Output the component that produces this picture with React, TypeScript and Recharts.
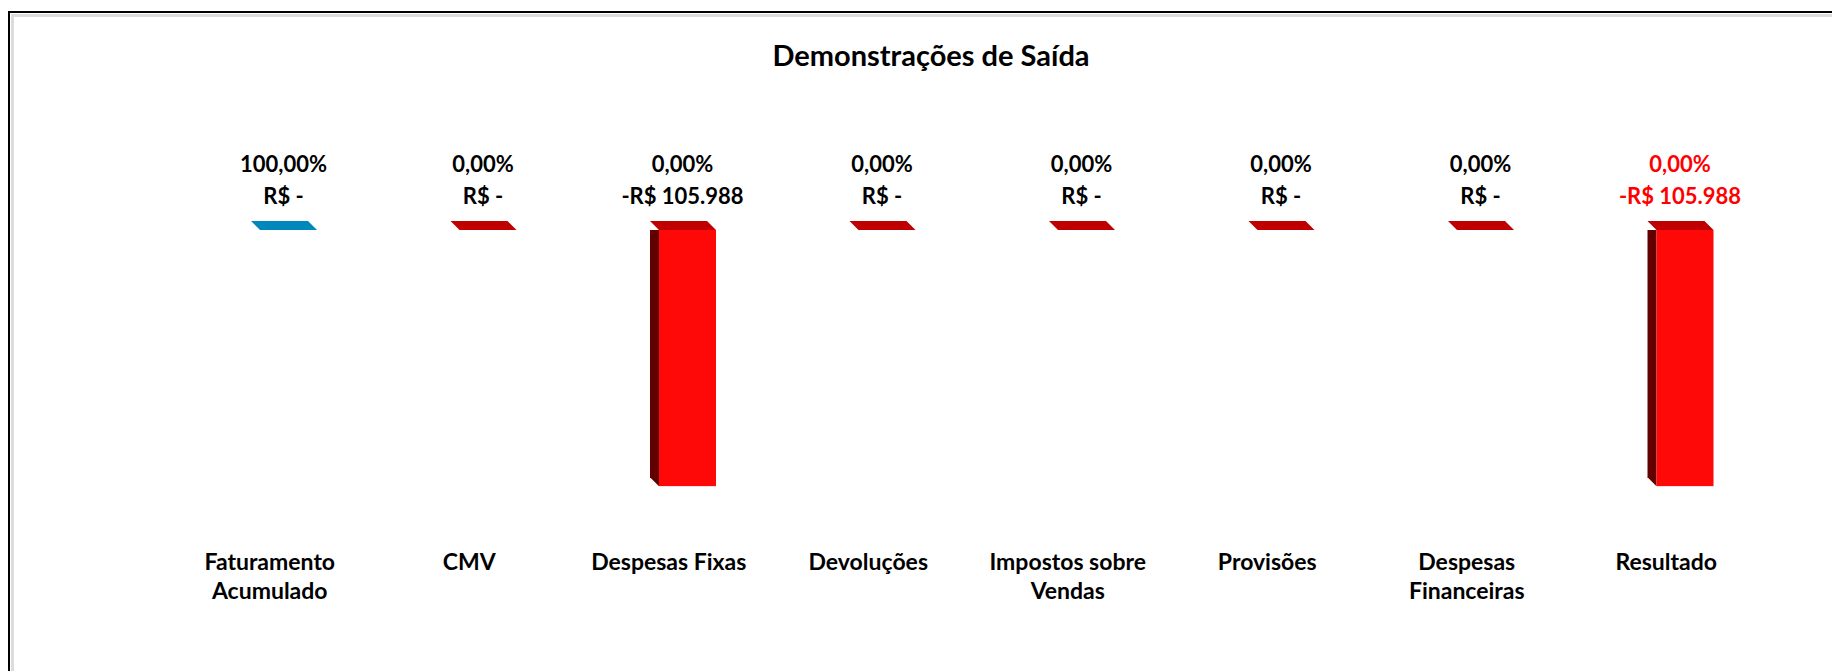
import { BarChart, Bar, XAxis, YAxis, LabelList } from 'recharts'

const categories = [
  'Faturamento Acumulado',
  'CMV',
  'Despesas Fixas',
  'Devoluções',
  'Impostos sobre Vendas',
  'Provisões',
  'Despesas Financeiras',
  'Resultado'
]
const valores = [0, 0, -105988, 0, 0, 0, 0, -105988]
const percentuais = [100, 0, 0, 0, 0, 0, 0, 0]

const data = categories.map((name, i) => ({
  name,
  valor: valores[i],
  pct: percentuais[i]
}))

const FONT = 'Lato, "Open Sans", sans-serif'
const DEPTH = 9

const blue = { front: '#1aa3d6', side: '#005f85', top: '#0088bd' }
const red = { front: '#ff0808', side: '#620000', top: '#c00000' }

const fmtPct = (v: number) => v.toFixed(2).replace('.', ',') + '%'
const fmtBRL = (v: number) => {
  if (v === 0) return 'R$ -'
  const s = Math.round(Math.abs(v)).toString().replace(/\B(?=(\d{3})+(?!\d))/g, '.')
  return (v < 0 ? '-' : '') + 'R$ ' + s
}

// barra "3D" estilo Excel: frente e lateral esquerda (o topo vai no LabelList,
// porque barras com valor zero não chamam o shape)
const Bar3D = (props: any) => {
  const { x, y, width, height, index } = props
  const top = Math.min(y, y + height)
  const h = Math.abs(height)
  const c = index === 0 ? blue : red
  if (!h) return null
  return (
    <g>
      <polygon
        points={`${x - DEPTH},${top - DEPTH} ${x},${top} ${x},${top + h} ${x - DEPTH},${top + h - DEPTH}`}
        fill={c.side}
      />
      <rect x={x} y={top} width={width} height={h} fill={c.front} />
    </g>
  )
}

const TopAndLabel = (props: any) => {
  const { x, y, width, height, index } = props
  const top = Math.min(y, y + (height || 0))
  const c = index === 0 ? blue : red
  const cx = x + width / 2 - 5
  const color = index === categories.length - 1 ? '#ff0000' : '#000'
  return (
    <g>
      <polygon
        points={`${x - DEPTH},${top - DEPTH} ${x + width - DEPTH},${top - DEPTH} ${x + width},${top} ${x},${top}`}
        fill={c.top}
      />
      <g fontFamily={FONT} fontWeight="bold" fontSize={22} fill={color} textAnchor="middle">
        <text x={cx} y={top - 67} dominantBaseline="central">{fmtPct(percentuais[index])}</text>
        <text x={cx} y={top - 35} dominantBaseline="central">{fmtBRL(valores[index])}</text>
      </g>
    </g>
  )
}

const wrap = (s: string, max: number) => {
  const lines: string[] = []
  let cur = ''
  s.split(' ').forEach((w) => {
    const next = cur ? cur + ' ' + w : w
    if (next.length > max && cur) {
      lines.push(cur)
      cur = w
    } else {
      cur = next
    }
  })
  if (cur) lines.push(cur)
  return lines
}

const CatTick = (props: any) => {
  const { x, y, payload } = props
  const lines = wrap(payload.value, 14)
  return (
    <g>
      {lines.map((l, i) => (
        <text
          key={i}
          x={x - 19}
          y={y + 41 + i * 29}
          textAnchor="middle"
          dominantBaseline="central"
          fontFamily={FONT}
          fontWeight="bold"
          fontSize={23}
          fill="#000"
        >
          {l}
        </text>
      ))}
    </g>
  )
}

const App = () => {
  return (
    <div style={{ position: 'fixed', left: 0, top: 0, width: 1832, height: 671, overflow: 'hidden', background: '#fff' }}>
      <div
        style={{
          position: 'absolute',
          left: 8,
          top: 11,
          width: 1900,
          height: 800,
          border: '2px solid #000',
          boxShadow: 'inset 0 0 0 1px #fff, inset 0 0 0 4px #dcdcdc'
        }}
      />
      <div
        style={{
          position: 'absolute',
          left: 631,
          top: 38,
          width: 600,
          textAlign: 'center',
          fontFamily: FONT,
          fontWeight: 'bold',
          fontSize: 29,
          lineHeight: '34px'
        }}
      >
        Demonstrações de Saída
      </div>
      <div style={{ position: 'absolute', left: 0, top: 0 }}>
        <BarChart
          width={1832}
          height={671}
          data={data}
          margin={{ top: 230, right: 47, bottom: 51, left: 189 }}
        >
          <XAxis
            dataKey="name"
            axisLine={false}
            tickLine={false}
            tickSize={0}
            tickMargin={0}
            interval={0}
            height={100}
            tick={<CatTick />}
          />
          <YAxis type="number" domain={[-120000, 0]} allowDataOverflow hide />
          <Bar dataKey="valor" barSize={57} shape={<Bar3D />} isAnimationActive={false}>
            <LabelList dataKey="valor" content={<TopAndLabel />} />
          </Bar>
        </BarChart>
      </div>
    </div>
  )
}

export default App
